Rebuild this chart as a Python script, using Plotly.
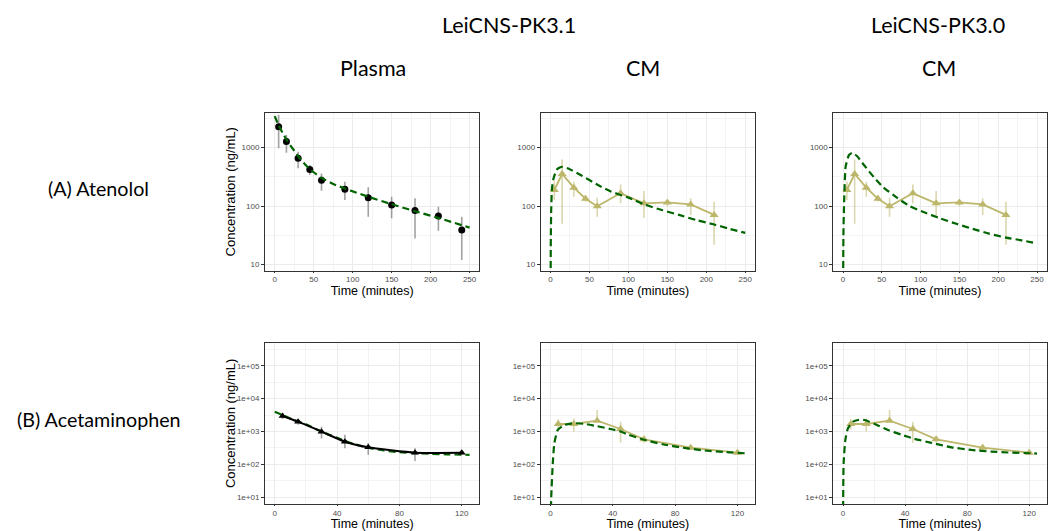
import plotly.graph_objects as go

# ---------------- data ----------------
# (A) Atenolol - plasma (observed)
ate_pl_time = [5, 15, 30, 45, 60, 90, 120, 150, 180, 210, 240]
ate_pl_obs = [2290, 1270, 660, 425, 277, 194, 140, 105, 84, 68, 39]
ate_pl_hi = [3610, 1650, 855, 506, 361, 262, 210, 145, 136, 98, 66]
ate_pl_lo = [974, 822, 444, 341, 184, 127, 66, 62, 28, 38, 12]
# (A) Atenolol - plasma (LeiCNS-PK3.1 prediction)
ate_pl_pred_t = [0, 5, 10, 15, 20, 30, 40, 50, 60, 75, 90, 105, 120, 150, 180, 210, 250]
ate_pl_pred = [3475, 2400, 1800, 1380, 1100, 720, 500, 380, 305, 240, 200, 170, 145, 108, 82, 63, 43]

# (A) Atenolol - CM (observed)
ate_cm_time = [5, 15, 30, 45, 60, 90, 120, 150, 180, 210]
ate_cm_obs = [189, 355, 207, 134, 100, 166, 112, 116, 107, 71]
ate_cm_hi = [263, 630, 262, 155, 139, 234, 182, 127, 136, 119]
ate_cm_lo = [127, 50, 145, 120, 66, 112, 63, 100, 71, 22]
# (A) Atenolol - CM predictions
ate_cm31_t = [0, 0.5, 1, 2, 4, 8, 14, 22, 41, 61, 78, 100, 122, 143, 165, 187, 209, 230, 250]
ate_cm31 = [1, 30, 90, 200, 300, 420, 470, 445, 328, 230, 177, 140, 105, 86, 71, 58, 49, 41, 35]
ate_cm30_t = [0, 0.5, 1.3, 3.4, 7.7, 12, 18, 27, 40, 52, 69, 86, 103, 125, 146, 167, 188, 210, 231, 250]
ate_cm30 = [1, 30, 100, 473, 750, 820, 720, 506, 311, 210, 141, 100, 80, 62, 50, 41, 34, 29, 26, 23]

# (B) Acetaminophen - plasma (observed)
ace_pl_time = [5, 15, 30, 45, 60, 90, 120]
ace_pl_obs = [2960, 1990, 990, 490, 330, 228, 225]
ace_pl_hi = [3600, 2400, 1400, 790, 437, 310, 265]
ace_pl_lo = [2400, 1600, 615, 310, 195, 126, 195]
ace_pl_pred_t = [0, 10, 20, 30, 40, 50, 60, 70, 80, 90, 100, 110, 125]
ace_pl_pred = [3990, 2500, 1650, 1000, 640, 430, 320, 265, 235, 220, 210, 203, 195]

# (B) Acetaminophen - CM (observed)
ace_cm_time = [5, 15, 30, 45, 60, 90, 120]
ace_cm_obs = [1690, 1690, 2130, 1190, 578, 323, 228]
ace_cm_hi = [2350, 2500, 4470, 1990, 725, 380, 270]
ace_cm_lo = [1150, 1000, 2000, 457, 457, 280, 195]
ace_cm31_t = [0, 0.5, 1.5, 2.5, 4.7, 9, 15, 22, 30, 40, 45, 50, 60, 72, 85, 98, 111, 125]
ace_cm31 = [1, 10, 107, 437, 1120, 1590, 1790, 1700, 1450, 1150, 1000, 800, 560, 410, 320, 268, 238, 218]
ace_cm30_t = [0, 0.4, 1.5, 3.2, 6.5, 9.7, 14, 20.4, 29, 37.6, 46, 57, 70, 82.8, 95.7, 106.5, 121.5, 125]
ace_cm30 = [1, 107, 550, 1260, 1990, 2240, 2240, 1690, 1110, 800, 600, 450, 330, 275, 245, 230, 218, 214]

# tick labels
top_y_ticks = [10, 100, 1000]
top_y_text = ["10", "100", "1000"]
bot_y_ticks = [1e1, 1e2, 1e3, 1e4, 1e5]
bot_y_text = ["1e+01", "1e+02", "1e+03", "1e+04", "1e+05"]
top_x_ticks = [0, 50, 100, 150, 200, 250]
bot_x_ticks = [0, 40, 80, 120]

# ---------------- styles ----------------
GREEN = "#006400"
TAN = "#bdb76b"
TAN_ERR = "rgba(189,183,107,0.55)"
GRAY_ERR = "rgba(100,100,100,0.6)"
DASH = "7px,4px"

W, H = 1057, 531


def err(obs, hi, lo, color):
    return dict(type="data", symmetric=False,
                array=[h - o for h, o in zip(hi, obs)],
                arrayminus=[o - l for o, l in zip(obs, lo)],
                color=color, thickness=1.6, width=0)


fig = go.Figure()

# Panel 1: atenolol plasma
fig.add_trace(go.Scatter(x=ate_pl_time, y=ate_pl_obs, mode="markers",
                         marker=dict(color="black", size=7, symbol="circle"),
                         error_y=err(ate_pl_obs, ate_pl_hi, ate_pl_lo, GRAY_ERR),
                         xaxis="x", yaxis="y"))
fig.add_trace(go.Scatter(x=ate_pl_pred_t, y=ate_pl_pred, mode="lines",
                         line=dict(color=GREEN, width=2.2, dash=DASH, shape="spline", smoothing=0.6),
                         xaxis="x", yaxis="y"))

# Panel 2: atenolol CM 3.1
fig.add_trace(go.Scatter(x=ate_cm_time, y=ate_cm_obs, mode="lines+markers",
                         line=dict(color=TAN, width=1.8),
                         marker=dict(color=TAN, size=8, symbol="triangle-up"),
                         error_y=err(ate_cm_obs, ate_cm_hi, ate_cm_lo, TAN_ERR),
                         xaxis="x2", yaxis="y2"))
fig.add_trace(go.Scatter(x=ate_cm31_t, y=ate_cm31, mode="lines",
                         line=dict(color=GREEN, width=2.2, dash=DASH, shape="spline", smoothing=0.5),
                         xaxis="x2", yaxis="y2"))

# Panel 3: atenolol CM 3.0
fig.add_trace(go.Scatter(x=ate_cm_time, y=ate_cm_obs, mode="lines+markers",
                         line=dict(color=TAN, width=1.8),
                         marker=dict(color=TAN, size=8, symbol="triangle-up"),
                         error_y=err(ate_cm_obs, ate_cm_hi, ate_cm_lo, TAN_ERR),
                         xaxis="x3", yaxis="y3"))
fig.add_trace(go.Scatter(x=ate_cm30_t, y=ate_cm30, mode="lines",
                         line=dict(color=GREEN, width=2.2, dash=DASH, shape="spline", smoothing=0.5),
                         xaxis="x3", yaxis="y3"))

# Panel 4: acetaminophen plasma
fig.add_trace(go.Scatter(x=ace_pl_pred_t, y=ace_pl_pred, mode="lines",
                         line=dict(color=GREEN, width=2.2, dash=DASH, shape="spline", smoothing=0.6),
                         xaxis="x4", yaxis="y4"))
fig.add_trace(go.Scatter(x=ace_pl_time, y=ace_pl_obs, mode="lines+markers",
                         line=dict(color="black", width=2, shape="spline", smoothing=0.5),
                         marker=dict(color="black", size=7, symbol="triangle-up"),
                         error_y=err(ace_pl_obs, ace_pl_hi, ace_pl_lo, GRAY_ERR),
                         xaxis="x4", yaxis="y4"))

# Panel 5: acetaminophen CM 3.1
fig.add_trace(go.Scatter(x=ace_cm_time, y=ace_cm_obs, mode="lines+markers",
                         line=dict(color=TAN, width=1.8),
                         marker=dict(color=TAN, size=8, symbol="triangle-up"),
                         error_y=err(ace_cm_obs, ace_cm_hi, ace_cm_lo, TAN_ERR),
                         xaxis="x5", yaxis="y5"))
fig.add_trace(go.Scatter(x=ace_cm31_t, y=ace_cm31, mode="lines",
                         line=dict(color=GREEN, width=2.2, dash=DASH, shape="spline", smoothing=0.5),
                         xaxis="x5", yaxis="y5"))

# Panel 6: acetaminophen CM 3.0
fig.add_trace(go.Scatter(x=ace_cm_time, y=ace_cm_obs, mode="lines+markers",
                         line=dict(color=TAN, width=1.8),
                         marker=dict(color=TAN, size=8, symbol="triangle-up"),
                         error_y=err(ace_cm_obs, ace_cm_hi, ace_cm_lo, TAN_ERR),
                         xaxis="x6", yaxis="y6"))
fig.add_trace(go.Scatter(x=ace_cm30_t, y=ace_cm30, mode="lines",
                         line=dict(color=GREEN, width=2.2, dash=DASH, shape="spline", smoothing=0.5),
                         xaxis="x6", yaxis="y6"))

# ---------------- axes ----------------
TICKFONT = dict(family="Liberation Sans, Arial", size=8, color="#4d4d4d")
TITLEFONT = dict(family="Liberation Sans, Arial", size=13, color="black")
XTITLEFONT = dict(family="Liberation Sans, Arial", size=12.5, color="black")


def xax(l, r, rng, ticks, minors, anchor):
    return dict(domain=[l / W, r / W], range=rng, tickvals=ticks,
                ticktext=[str(t) for t in ticks], anchor=anchor,
                showgrid=True, gridcolor="#ebebeb", gridwidth=1,
                minor=dict(tickvals=minors, showgrid=True, gridcolor="#f3f3f3", gridwidth=0.6, ticklen=0),
                zeroline=False, showline=True, mirror=True, linecolor="#333333", linewidth=1,
                ticks="outside", ticklen=1, tickcolor="#333333", tickfont=TICKFONT,
                title=dict(text="Time (minutes)", font=XTITLEFONT, standoff=2))


def yax(t, b, rng, ticks, text, minors, anchor):
    return dict(domain=[1 - b / H, 1 - t / H], type="log", range=rng, tickvals=ticks,
                ticktext=text, anchor=anchor,
                showgrid=True, gridcolor="#ebebeb", gridwidth=1,
                minor=dict(tickvals=minors, showgrid=True, gridcolor="#f3f3f3", gridwidth=0.6, ticklen=0),
                zeroline=False, showline=True, mirror=True, linecolor="#333333", linewidth=1,
                ticks="outside", ticklen=3, tickcolor="#333333", tickfont=TICKFONT)


top_x_minor = [25, 75, 125, 175, 225]
bot_x_minor = [20, 60, 100]
top_y_minor = [10 ** 1.5, 10 ** 2.5, 10 ** 3.5]
bot_y_minor = [10 ** 1.5, 10 ** 2.5, 10 ** 3.5, 10 ** 4.5, 10 ** 5.5]

TOP = (112.7, 270.7)
BOT = (342.7, 504)
top_xr = [-12.5, 262.5]
bot_xr = [-6.25, 131.25]
top_yr = [0.897, 3.598]
bot_yr = [0.796, 5.70]

cols = [(265, 479.3), (540.7, 755), (833.3, 1046.7)]

layout = dict(
    width=W, height=H, margin=dict(l=0, r=0, t=0, b=0),
    paper_bgcolor="white", plot_bgcolor="white", showlegend=False,
)
for i, (l, r) in enumerate(cols):
    n = i + 1
    m = i + 4
    sx = "" if n == 1 else str(n)
    layout["xaxis" + sx] = xax(l, r, top_xr, top_x_ticks, top_x_minor, "y" + sx)
    layout["yaxis" + sx] = yax(TOP[0], TOP[1], top_yr, top_y_ticks, top_y_text, top_y_minor, "x" + sx)
    layout["xaxis" + str(m)] = xax(l, r, bot_xr, bot_x_ticks, bot_x_minor, "y" + str(m))
    layout["yaxis" + str(m)] = yax(BOT[0], BOT[1], bot_yr, bot_y_ticks, bot_y_text, bot_y_minor, "x" + str(m))

fig.update_layout(**layout)

# y-axis titles
for yc in [(TOP[0] + TOP[1]) / 2, (BOT[0] + BOT[1]) / 2]:
    fig.add_annotation(text="Concentration (ng/mL)", x=230.7 / W, y=1 - yc / H,
                       xref="paper", yref="paper", showarrow=False, textangle=-90,
                       font=TITLEFONT, xanchor="center", yanchor="middle")

HFONT = dict(family="Lato, Calibri, sans-serif", size=21.5, color="black")
RFONT = dict(family="Lato, Calibri, sans-serif", size=19.7, color="black")
ann = [
    ("LeiCNS-PK3.1", 509, 25, HFONT),
    ("LeiCNS-PK3.0", 938, 25, HFONT),
    ("Plasma", 373, 68, HFONT),
    ("CM", 643, 68, HFONT),
    ("CM", 939, 68, HFONT),
    ("(A) Atenolol", 98.5, 189, RFONT),
    ("(B) Acetaminophen", 98.5, 419, RFONT),
]
for text, x, y, f in ann:
    fig.add_annotation(text=text, x=x / W, y=1 - y / H, xref="paper", yref="paper",
                       showarrow=False, font=f, xanchor="center", yanchor="middle")

fig.write_html("out.html", config={"displayModeBar": False},
               post_script="document.body.style.margin='0';document.body.style.overflow='hidden';")
